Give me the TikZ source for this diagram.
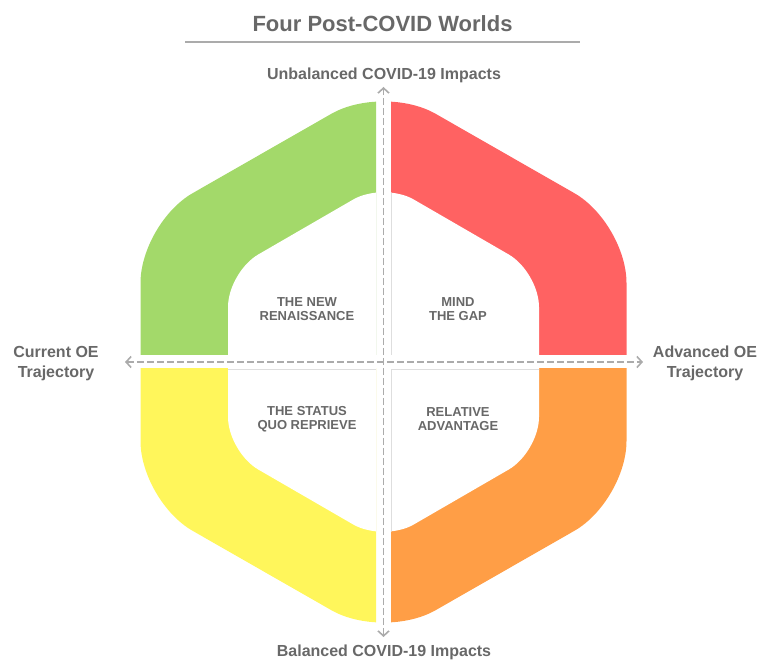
\documentclass[tikz,border=0pt]{standalone}
\usepackage{fontspec}
\setmainfont{Liberation Sans}
\usetikzlibrary{arrows.meta}

\definecolor{qgreen}{HTML}{A3D96A}
\definecolor{qred}{HTML}{FF6262}
\definecolor{qyellow}{HTML}{FFF65B}
\definecolor{qorange}{HTML}{FF9E46}
\definecolor{txtgray}{HTML}{686868}
\definecolor{axisgray}{HTML}{ABABAB}
\definecolor{edgegray}{HTML}{DEDEDE}

% hexagon outlines (centre at 383.5,362)
\newcommand{\outerhex}{[rounded corners=60pt] (140.5,362) -- (140.5,223) -- (383.5,84) -- (626.5,223) -- (626.5,501) -- (383.5,640) -- (140.5,501) -- cycle}
\newcommand{\innerhex}{[rounded corners=35pt] (228,362) -- (228,272) -- (383.5,182) -- (539,272) -- (539,452) -- (383.5,542) -- (228,452) -- cycle}

\begin{document}
\begin{tikzpicture}[x=1pt, y=-1pt,
    axis/.style={draw=axisgray, line width=1.6pt, dash pattern=on 7pt off 3pt,
      {Straight Barb[length=5pt,width=11pt]}-{Straight Barb[length=5pt,width=11pt]}},
    lbl/.style={text=txtgray, font=\bfseries\fontsize{16}{20}\selectfont, align=center},
    quad/.style={text=txtgray, font=\bfseries\fontsize{13}{14}\selectfont, align=center}]
	\useasboundingbox (0,0) rectangle (769,660);
	\coordinate (O) at (383.5,362);
	% title
	\node[text=txtgray, font=\bfseries\fontsize{22}{26}\selectfont, anchor=base] (title) at (382.5,31.5) {Four Post-COVID Worlds};
	\coordinate (R1) at (185,42);
	\coordinate (R2) at (580,42);
	\draw[axisgray, line width=1.2pt] (R1) -- (R2);
	% quadrants
	\begin{scope}
		\clip (O) ++(-7.5,-7) rectangle (0,0);
		\fill[qgreen] \outerhex;
		\fill[white] \innerhex;
		\clip \innerhex;
		\draw[edgegray, line width=0.8pt] (O) ++(-7.5,-7) rectangle (0,0);
	\end{scope}
	\begin{scope}
		\clip (O) ++(7.5,-7) rectangle (769,0);
		\fill[qred] \outerhex;
		\fill[white] \innerhex;
		\clip \innerhex;
		\draw[edgegray, line width=0.8pt] (O) ++(7.5,-7) rectangle (769,0);
	\end{scope}
	\begin{scope}
		\clip (O) ++(-7.5,7) rectangle (0,660);
		\fill[qyellow] \outerhex;
		\fill[white] \innerhex;
		\clip \innerhex;
		\draw[edgegray, line width=0.8pt] (O) ++(-7.5,7) rectangle (0,660);
	\end{scope}
	\begin{scope}
		\clip (O) ++(7.5,7) rectangle (769,660);
		\fill[qorange] \outerhex;
		\fill[white] \innerhex;
		\clip \innerhex;
		\draw[edgegray, line width=0.8pt] (O) ++(7.5,7) rectangle (769,660);
	\end{scope}
	% axes
	\coordinate (N) at (383.5,87);
	\coordinate (S) at (383.5,637);
	\coordinate (W) at (125,362);
	\coordinate (E) at (643,362);
	\draw[axis] (W) -- (E);
	\draw[axis] (S) -- (N);
	\node[lbl, anchor=base] (unbal) at (384,80) {Unbalanced COVID-19 Impacts};
	\node[lbl, anchor=base] (bal) at (384,656) {Balanced COVID-19 Impacts};
	\node[lbl] (current) at (56,364) {Current OE\\Trajectory};
	\node[lbl] (advanced) at (705,363) {Advanced OE\\Trajectory};
	% scenario names
	\node[quad] (renaissance) at (307,309) {THE NEW\\RENAISSANCE};
	\node[quad] (mindgap) at (458,309) {MIND\\THE GAP};
	\node[quad] (statusquo) at (307,419) {THE STATUS\\QUO REPRIEVE};
	\node[quad] (relative) at (458,419) {RELATIVE\\ADVANTAGE};
\end{tikzpicture}
\end{document}
